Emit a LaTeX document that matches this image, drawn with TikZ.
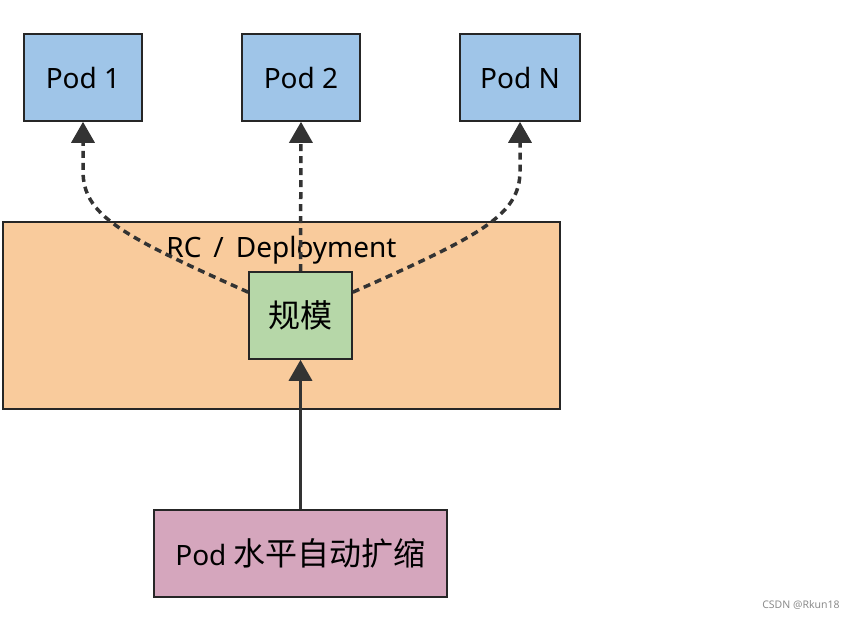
\documentclass[tikz,border=0pt]{standalone}
\usepackage{fontspec}
\setmainfont{Noto Sans}
\newfontfamily\cjk{Noto Sans CJK SC}
\usepackage{tikz}
\usetikzlibrary{arrows.meta}
\tikzset{>={Triangle[length=21pt,width=23pt]}}
\definecolor{podblue}{HTML}{9FC5E8}
\definecolor{rcorange}{HTML}{F9CB9C}
\definecolor{scalegreen}{HTML}{B6D7A8}
\definecolor{hpapink}{HTML}{D5A6BD}
\definecolor{edgegray}{HTML}{333333}
\tikzset{
  box/.style = {draw=black!85, line width=1.6pt, inner sep=0pt, minimum height=87pt,
                font=\fontsize{28}{32}\selectfont},
  dashlink/.style = {->, draw=edgegray, line width=3.5pt, dash pattern=on 7pt off 5pt},
  solidlink/.style = {->, draw=edgegray, line width=3.5pt}
}

\begin{document}
\begin{tikzpicture}[x=1pt, y=-1pt]
\useasboundingbox (0,0) rectangle (858,619);

\node[box, fill=podblue, minimum width=118pt] (pod1) at (83,77.5) {Pod 1};
\node[box, fill=podblue, minimum width=118pt] (pod2) at (301,77.5) {Pod 2};
\node[box, fill=podblue, minimum width=120pt] (podn) at (520,77.5) {Pod N};

\node[box, fill=rcorange, minimum width=557pt, minimum height=187pt] (rc) at (281.5,315.5) {};
\node[font=\fontsize{28}{32}\selectfont] (rclabel) at (281.5,250) {RC \,/\, Deployment};
\node[box, fill=scalegreen, minimum width=103pt] (scale) at (300.5,315.5) {\cjk\fontsize{32}{36}\selectfont 规模};

\node[box, fill=hpapink, minimum width=293pt] (hpa) at (300.5,553.5)
  {Pod {\cjk\fontsize{32}{36}\selectfont 水平自动扩缩}};

\draw[dashlink] ([yshift=-21pt]scale.north west) .. controls (120,235) and (83,215) ..
  ([yshift=-49pt]pod1.south) -- (pod1.south);
\draw[dashlink] (scale.north) -- (pod2.south);
\draw[dashlink] ([yshift=-21pt]scale.north east) .. controls (482,235) and (520,215) ..
  ([yshift=-49pt]podn.south) -- (podn.south);
\draw[solidlink] (hpa.north) -- (scale.south);

\node[text=black!45, font=\fontsize{10.5}{12}\selectfont] (mark) at (801,605) {CSDN @Rkun18};
\end{tikzpicture}
\end{document}
